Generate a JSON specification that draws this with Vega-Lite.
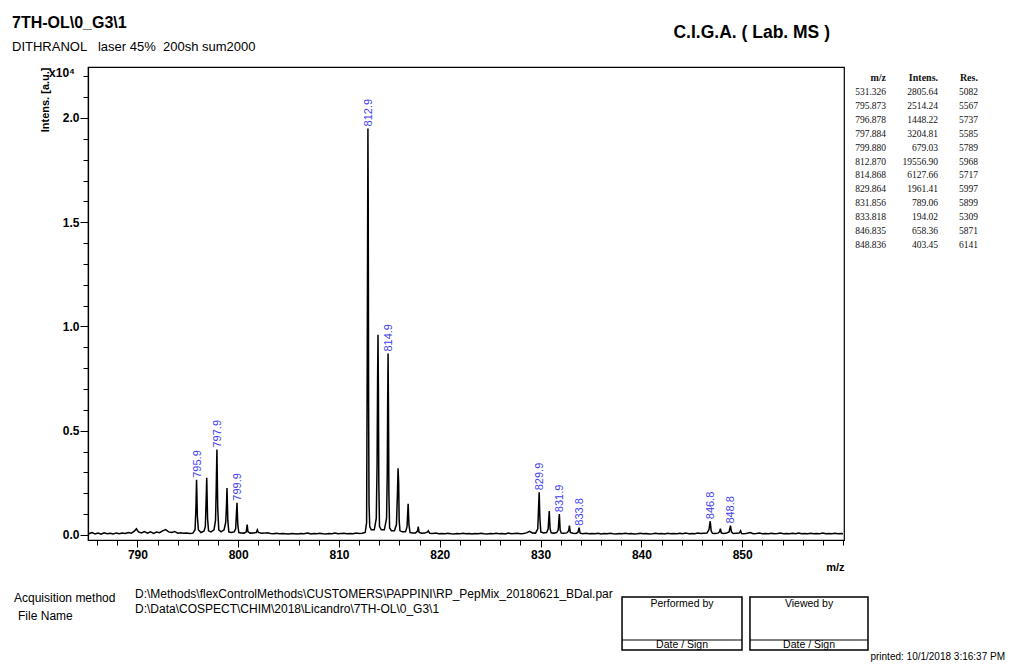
{
  "$schema": "https://vega.github.io/schema/vega-lite/v6.json",
  "autosize": {"type": "none"},
  "width": 756,
  "height": 473,
  "padding": {"left": 88, "top": 67, "right": 166, "bottom": 126},
  "background": "white",
  "title": {
    "text": "7TH-OL\\0_G3\\1",
    "subtitle": "DITHRANOL\u00a0\u00a0\u00a0laser 45%\u00a0\u00a0200sh sum2000",
    "anchor": "start",
    "frame": "group",
    "dx": -76,
    "offset": -30,
    "font": "Liberation Sans",
    "fontSize": 16,
    "fontWeight": "bold",
    "color": "black",
    "subtitleFont": "Liberation Sans",
    "subtitleFontSize": 13,
    "subtitleFontWeight": "normal",
    "subtitleColor": "black",
    "subtitlePadding": 10
  },
  "datasets": {
    "spectrum": [
      {"mz":785.2,"intens":60},{"mz":785.5,"intens":120},{"mz":785.8,"intens":50},{"mz":786.1,"intens":90},{"mz":786.4,"intens":40},{"mz":786.7,"intens":110},{"mz":787.0,"intens":60},{"mz":787.3,"intens":80},{"mz":787.6,"intens":50},{"mz":787.9,"intens":100},{"mz":788.2,"intens":60},{"mz":788.5,"intens":90},{"mz":788.8,"intens":70},{"mz":789.1,"intens":120},{"mz":789.4,"intens":90},{"mz":789.7,"intens":180},{"mz":789.9,"intens":300},{"mz":790.1,"intens":150},{"mz":790.4,"intens":100},{"mz":790.7,"intens":160},{"mz":791.0,"intens":90},{"mz":791.3,"intens":150},{"mz":791.6,"intens":80},{"mz":791.9,"intens":140},{"mz":792.2,"intens":110},{"mz":792.5,"intens":200},{"mz":792.8,"intens":260},{"mz":793.1,"intens":150},{"mz":793.4,"intens":120},{"mz":793.7,"intens":170},{"mz":794.0,"intens":90},{"mz":794.3,"intens":110},{"mz":794.6,"intens":80},{"mz":794.9,"intens":100},{"mz":795.2,"intens":70},{"mz":795.5,"intens":90},
      {"mz":795.72,"intens":250},{"mz":795.8,"intens":1200},{"mz":795.87,"intens":2650},{"mz":795.95,"intens":900},{"mz":796.05,"intens":250},{"mz":796.3,"intens":120},{"mz":796.6,"intens":180},{"mz":796.74,"intens":400},{"mz":796.81,"intens":1500},{"mz":796.88,"intens":2750},{"mz":796.96,"intens":800},{"mz":797.06,"intens":200},{"mz":797.3,"intens":150},{"mz":797.6,"intens":250},{"mz":797.75,"intens":700},{"mz":797.82,"intens":2200},{"mz":797.89,"intens":4100},{"mz":797.97,"intens":1300},{"mz":798.07,"intens":250},{"mz":798.3,"intens":150},{"mz":798.6,"intens":250},{"mz":798.76,"intens":600},{"mz":798.83,"intens":1300},{"mz":798.89,"intens":2250},{"mz":798.97,"intens":700},{"mz":799.07,"intens":150},{"mz":799.3,"intens":120},{"mz":799.6,"intens":150},{"mz":799.75,"intens":300},{"mz":799.88,"intens":1550},{"mz":799.96,"intens":500},{"mz":800.06,"intens":120},{"mz":800.3,"intens":100},{"mz":800.6,"intens":90},{"mz":800.8,"intens":150},{"mz":800.89,"intens":500},{"mz":800.97,"intens":150},{"mz":801.2,"intens":90},{"mz":801.5,"intens":100},{"mz":801.8,"intens":120},{"mz":801.9,"intens":250},{"mz":802.0,"intens":120},{"mz":802.3,"intens":80},{"mz":802.6,"intens":90},{"mz":802.9,"intens":110},
      {"mz":803.2,"intens":70},{"mz":803.5,"intens":60},{"mz":803.8,"intens":80},{"mz":804.1,"intens":60},{"mz":804.4,"intens":70},{"mz":804.7,"intens":60},{"mz":805.0,"intens":50},{"mz":805.3,"intens":70},{"mz":805.6,"intens":60},{"mz":805.9,"intens":50},{"mz":806.2,"intens":70},{"mz":806.5,"intens":60},{"mz":806.9,"intens":90},{"mz":807.2,"intens":50},{"mz":807.5,"intens":70},{"mz":807.8,"intens":60},{"mz":808.1,"intens":80},{"mz":808.4,"intens":60},{"mz":808.7,"intens":50},{"mz":809.0,"intens":70},{"mz":809.3,"intens":60},{"mz":809.6,"intens":90},{"mz":809.9,"intens":60},{"mz":810.2,"intens":70},{"mz":810.5,"intens":80},{"mz":810.8,"intens":60},{"mz":811.1,"intens":70},{"mz":811.4,"intens":60},{"mz":811.7,"intens":90},{"mz":812.0,"intens":70},{"mz":812.3,"intens":80},{"mz":812.6,"intens":120},
      {"mz":812.74,"intens":600},{"mz":812.8,"intens":8000},{"mz":812.84,"intens":14500},{"mz":812.87,"intens":19500},{"mz":812.9,"intens":16000},{"mz":812.94,"intens":6000},{"mz":812.98,"intens":1500},{"mz":813.05,"intens":400},{"mz":813.2,"intens":250},{"mz":813.5,"intens":250},{"mz":813.7,"intens":800},{"mz":813.78,"intens":3500},{"mz":813.83,"intens":7500},{"mz":813.87,"intens":9600},{"mz":813.91,"intens":7000},{"mz":813.95,"intens":2500},{"mz":814.02,"intens":400},{"mz":814.2,"intens":250},{"mz":814.5,"intens":250},{"mz":814.72,"intens":800},{"mz":814.79,"intens":3000},{"mz":814.83,"intens":6500},{"mz":814.87,"intens":8700},{"mz":814.91,"intens":6000},{"mz":814.95,"intens":2000},{"mz":815.02,"intens":350},{"mz":815.2,"intens":200},{"mz":815.5,"intens":200},{"mz":815.7,"intens":500},{"mz":815.8,"intens":2000},{"mz":815.86,"intens":3200},{"mz":815.92,"intens":2500},{"mz":815.97,"intens":700},{"mz":816.05,"intens":200},{"mz":816.3,"intens":150},{"mz":816.6,"intens":150},{"mz":816.75,"intens":400},{"mz":816.86,"intens":1500},{"mz":816.94,"intens":500},{"mz":817.05,"intens":120},{"mz":817.3,"intens":100},{"mz":817.6,"intens":100},{"mz":817.8,"intens":200},{"mz":817.86,"intens":400},{"mz":817.95,"intens":120},{"mz":818.2,"intens":80},{"mz":818.5,"intens":90},{"mz":818.8,"intens":150},{"mz":818.86,"intens":200},{"mz":819.0,"intens":80},
      {"mz":819.3,"intens":70},{"mz":819.6,"intens":90},{"mz":819.9,"intens":60},{"mz":820.2,"intens":70},{"mz":820.5,"intens":60},{"mz":820.8,"intens":80},{"mz":821.1,"intens":60},{"mz":821.4,"intens":50},{"mz":821.7,"intens":70},{"mz":822.0,"intens":60},{"mz":822.3,"intens":80},{"mz":822.6,"intens":60},{"mz":822.9,"intens":70},{"mz":823.2,"intens":50},{"mz":823.5,"intens":70},{"mz":823.8,"intens":60},{"mz":824.1,"intens":80},{"mz":824.4,"intens":60},{"mz":824.7,"intens":50},{"mz":825.0,"intens":70},{"mz":825.3,"intens":60},{"mz":825.6,"intens":80},{"mz":825.9,"intens":60},{"mz":826.2,"intens":70},{"mz":826.5,"intens":50},{"mz":826.8,"intens":90},{"mz":827.1,"intens":60},{"mz":827.4,"intens":70},{"mz":827.7,"intens":80},{"mz":828.0,"intens":60},{"mz":828.3,"intens":70},{"mz":828.6,"intens":100},{"mz":828.9,"intens":180},{"mz":829.2,"intens":100},{"mz":829.5,"intens":90},
      {"mz":829.72,"intens":300},{"mz":829.8,"intens":1300},{"mz":829.86,"intens":2050},{"mz":829.93,"intens":800},{"mz":830.02,"intens":150},{"mz":830.3,"intens":100},{"mz":830.6,"intens":120},{"mz":830.75,"intens":300},{"mz":830.86,"intens":1150},{"mz":830.94,"intens":300},{"mz":831.05,"intens":100},{"mz":831.3,"intens":90},{"mz":831.6,"intens":120},{"mz":831.75,"intens":250},{"mz":831.86,"intens":1000},{"mz":831.94,"intens":250},{"mz":832.05,"intens":90},{"mz":832.3,"intens":80},{"mz":832.6,"intens":100},{"mz":832.78,"intens":200},{"mz":832.86,"intens":450},{"mz":832.95,"intens":120},{"mz":833.2,"intens":80},{"mz":833.5,"intens":70},{"mz":833.7,"intens":120},{"mz":833.82,"intens":350},{"mz":833.92,"intens":90},
      {"mz":834.2,"intens":60},{"mz":834.5,"intens":80},{"mz":834.8,"intens":60},{"mz":835.1,"intens":70},{"mz":835.4,"intens":60},{"mz":835.7,"intens":80},{"mz":836.0,"intens":50},{"mz":836.3,"intens":70},{"mz":836.6,"intens":60},{"mz":836.9,"intens":80},{"mz":837.2,"intens":60},{"mz":837.5,"intens":50},{"mz":837.8,"intens":70},{"mz":838.1,"intens":60},{"mz":838.4,"intens":80},{"mz":838.7,"intens":60},{"mz":839.0,"intens":70},{"mz":839.3,"intens":50},{"mz":839.6,"intens":60},{"mz":839.9,"intens":80},{"mz":840.2,"intens":60},{"mz":840.5,"intens":70},{"mz":840.8,"intens":50},{"mz":841.1,"intens":60},{"mz":841.4,"intens":80},{"mz":841.7,"intens":60},{"mz":842.0,"intens":70},{"mz":842.3,"intens":50},{"mz":842.6,"intens":80},{"mz":842.9,"intens":60},{"mz":843.2,"intens":70},{"mz":843.5,"intens":60},{"mz":843.8,"intens":80},{"mz":844.1,"intens":60},{"mz":844.4,"intens":90},{"mz":844.7,"intens":60},{"mz":845.0,"intens":70},{"mz":845.3,"intens":60},{"mz":845.6,"intens":90},{"mz":845.9,"intens":70},{"mz":846.2,"intens":80},{"mz":846.5,"intens":90},
      {"mz":846.7,"intens":250},{"mz":846.83,"intens":660},{"mz":846.92,"intens":200},{"mz":847.05,"intens":80},{"mz":847.3,"intens":70},{"mz":847.6,"intens":90},{"mz":847.75,"intens":150},{"mz":847.84,"intens":300},{"mz":847.93,"intens":100},{"mz":848.1,"intens":70},{"mz":848.4,"intens":80},{"mz":848.7,"intens":150},{"mz":848.84,"intens":450},{"mz":848.93,"intens":150},{"mz":849.1,"intens":70},{"mz":849.4,"intens":80},{"mz":849.7,"intens":90},{"mz":849.84,"intens":200},{"mz":849.93,"intens":70},
      {"mz":850.2,"intens":60},{"mz":850.5,"intens":80},{"mz":850.8,"intens":120},{"mz":851.1,"intens":60},{"mz":851.4,"intens":70},{"mz":851.7,"intens":90},{"mz":852.0,"intens":60},{"mz":852.3,"intens":70},{"mz":852.6,"intens":60},{"mz":852.9,"intens":80},{"mz":853.2,"intens":60},{"mz":853.5,"intens":70},{"mz":853.8,"intens":90},{"mz":854.1,"intens":60},{"mz":854.4,"intens":70},{"mz":854.7,"intens":60},{"mz":855.0,"intens":80},{"mz":855.3,"intens":60},{"mz":855.6,"intens":100},{"mz":855.9,"intens":60},{"mz":856.2,"intens":70},{"mz":856.5,"intens":60},{"mz":856.8,"intens":80},{"mz":857.1,"intens":60},{"mz":857.4,"intens":70},{"mz":857.7,"intens":60},{"mz":858.0,"intens":90},{"mz":858.3,"intens":60},{"mz":858.6,"intens":70},{"mz":858.9,"intens":60},{"mz":859.2,"intens":80},{"mz":859.5,"intens":60},{"mz":859.8,"intens":70},{"mz":860.0,"intens":60}
    ],
    "peaks": [
      {"mz":795.87,"intens":2650,"label":"795.9"},
      {"mz":797.89,"intens":4100,"label":"797.9"},
      {"mz":799.88,"intens":1550,"label":"799.9"},
      {"mz":812.87,"intens":19500,"label":"812.9"},
      {"mz":814.87,"intens":8700,"label":"814.9"},
      {"mz":829.86,"intens":2050,"label":"829.9"},
      {"mz":831.86,"intens":1000,"label":"831.9"},
      {"mz":833.82,"intens":350,"label":"833.8"},
      {"mz":846.83,"intens":660,"label":"846.8"},
      {"mz":848.84,"intens":450,"label":"848.8"}
    ],
    "peaktable": [
      {"mz":"531.326","intens":"2805.64","res":"5082"},
      {"mz":"795.873","intens":"2514.24","res":"5567"},
      {"mz":"796.878","intens":"1448.22","res":"5737"},
      {"mz":"797.884","intens":"3204.81","res":"5585"},
      {"mz":"799.880","intens":"679.03","res":"5789"},
      {"mz":"812.870","intens":"19556.90","res":"5968"},
      {"mz":"814.868","intens":"6127.66","res":"5717"},
      {"mz":"829.864","intens":"1961.41","res":"5997"},
      {"mz":"831.856","intens":"789.06","res":"5899"},
      {"mz":"833.818","intens":"194.02","res":"5309"},
      {"mz":"846.835","intens":"658.36","res":"5871"},
      {"mz":"848.836","intens":"403.45","res":"6141"}
    ],
    "one": [{}]
  },
  "layer": [
    {
      "layer": [
        {
          "data": {"name": "spectrum"},
          "mark": {"type": "line", "color": "black", "strokeWidth": 1.5, "clip": true},
          "encoding": {
            "x": {
              "field": "mz", "type": "quantitative",
              "scale": {"domain": [785.1, 860.1], "nice": false, "zero": false},
              "axis": {
                "values": [790, 800, 810, 820, 830, 840, 850],
                "format": "d",
                "labelOverlap": false,
                "labelFlush": false,
                "labelBound": false,
                "tickSize": 7,
                "tickColor": "black",
                "tickWidth": 1,
                "labelFontSize": 12,
                "labelFontWeight": "bold",
                "labelPadding": 2,
                "domainColor": "black",
                "domainWidth": 1.2,
                "title": "m/z",
                "titleAnchor": "end",
                "titleAlign": "right",
                "titleFontSize": 11,
                "titleFontWeight": "bold",
                "titlePadding": 1,
                "grid": false
              }
            },
            "y": {
              "field": "intens", "type": "quantitative",
              "scale": {"domain": [-240, 22446], "nice": false, "zero": false},
              "axis": {
                "values": [0, 5000, 10000, 15000, 20000],
                "labelExpr": "format(datum.value / 10000, '.1f')",
                "labelOverlap": false,
                "labelFlush": false,
                "labelBound": false,
                "tickSize": 8,
                "tickColor": "black",
                "tickWidth": 1,
                "labelFontSize": 12,
                "labelFontWeight": "bold",
                "labelPadding": 1,
                "domainColor": "black",
                "domainWidth": 1.2,
                "title": "Intens. [a.u.]",
                "titleAnchor": "end",
                "titleFontSize": 11,
                "titleFontWeight": "bold",
                "titlePadding": 12,
                "grid": false
              }
            }
          }
        },
        {
          "data": {"name": "peaks"},
          "mark": {"type": "text", "angle": 270, "align": "left", "baseline": "middle", "dx": 2, "dy": 1, "font": "Liberation Sans", "fontSize": 11, "color": "#3f3ff0"},
          "encoding": {
            "x": {"field": "mz", "type": "quantitative"},
            "y": {"field": "intens", "type": "quantitative"},
            "text": {"field": "label"}
          }
        },
        {
          "data": {"name": "one"},
          "mark": {"type": "text", "text": "x10\u2074", "align": "right", "baseline": "top", "font": "Liberation Sans", "fontSize": 12, "fontWeight": "bold", "color": "black"},
          "encoding": {"x": {"datum": 783.81, "type": "quantitative"}, "y": {"datum": 22397, "type": "quantitative"}}
        },
        {
          "data": {"name": "one"},
          "mark": {"type": "text", "text": "C.I.G.A. ( Lab. MS )", "align": "right", "baseline": "middle", "font": "Liberation Sans", "fontSize": 17.5, "fontWeight": "bold", "color": "black"},
          "encoding": {"x": {"datum": 858.71, "type": "quantitative"}, "y": {"datum": 24076, "type": "quantitative"}}
        },
        {
          "data": {"name": "one"},
          "mark": {"type": "text", "text": "Acquisition method", "align": "left", "baseline": "middle", "font": "Liberation Sans", "fontSize": 12, "color": "black"},
          "encoding": {"x": {"datum": 777.76, "type": "quantitative"}, "y": {"datum": -3021, "type": "quantitative"}}
        },
        {
          "data": {"name": "one"},
          "mark": {"type": "text", "text": "File Name", "align": "left", "baseline": "middle", "font": "Liberation Sans", "fontSize": 12, "color": "black"},
          "encoding": {"x": {"datum": 778.16, "type": "quantitative"}, "y": {"datum": -3885, "type": "quantitative"}}
        },
        {
          "data": {"name": "one"},
          "mark": {"type": "text", "text": "D:\\Methods\\flexControlMethods\\CUSTOMERS\\PAPPINI\\RP_PepMix_20180621_BDal.par", "align": "left", "baseline": "middle", "font": "Liberation Sans", "fontSize": 12, "color": "black"},
          "encoding": {"x": {"datum": 789.76, "type": "quantitative"}, "y": {"datum": -2830, "type": "quantitative"}}
        },
        {
          "data": {"name": "one"},
          "mark": {"type": "text", "text": "D:\\Data\\COSPECT\\CHIM\\2018\\Licandro\\7TH-OL\\0_G3\\1", "align": "left", "baseline": "middle", "font": "Liberation Sans", "fontSize": 12, "color": "black"},
          "encoding": {"x": {"datum": 789.76, "type": "quantitative"}, "y": {"datum": -3549, "type": "quantitative"}}
        },
        {
          "data": {"name": "one"},
          "mark": {"type": "rect", "filled": false, "color": "black", "strokeWidth": 1.5},
          "encoding": {"x": {"datum": 838.08, "type": "quantitative"}, "x2": {"datum": 849.98}, "y": {"datum": -2974, "type": "quantitative"}, "y2": {"datum": -5515}}
        },
        {
          "data": {"name": "one"},
          "mark": {"type": "rect", "filled": false, "color": "black", "strokeWidth": 1.5},
          "encoding": {"x": {"datum": 850.77, "type": "quantitative"}, "x2": {"datum": 862.48}, "y": {"datum": -2974, "type": "quantitative"}, "y2": {"datum": -5515}}
        },
        {
          "data": {"name": "one"},
          "mark": {"type": "rule", "color": "black", "strokeWidth": 1.2},
          "encoding": {"x": {"datum": 838.08, "type": "quantitative"}, "x2": {"datum": 849.98}, "y": {"datum": -5036, "type": "quantitative"}}
        },
        {
          "data": {"name": "one"},
          "mark": {"type": "rule", "color": "black", "strokeWidth": 1.2},
          "encoding": {"x": {"datum": 850.77, "type": "quantitative"}, "x2": {"datum": 862.48}, "y": {"datum": -5036, "type": "quantitative"}}
        },
        {
          "data": {"name": "one"},
          "mark": {"type": "text", "text": "Performed by", "align": "center", "baseline": "middle", "font": "Liberation Sans", "fontSize": 10.5, "color": "black"},
          "encoding": {"x": {"datum": 844.03, "type": "quantitative"}, "y": {"datum": -3309, "type": "quantitative"}}
        },
        {
          "data": {"name": "one"},
          "mark": {"type": "text", "text": "Viewed by", "align": "center", "baseline": "middle", "font": "Liberation Sans", "fontSize": 10.5, "color": "black"},
          "encoding": {"x": {"datum": 856.63, "type": "quantitative"}, "y": {"datum": -3309, "type": "quantitative"}}
        },
        {
          "data": {"name": "one"},
          "mark": {"type": "text", "text": "Date / Sign", "align": "center", "baseline": "middle", "font": "Liberation Sans", "fontSize": 10.5, "color": "black"},
          "encoding": {"x": {"datum": 844.03, "type": "quantitative"}, "y": {"datum": -5276, "type": "quantitative"}}
        },
        {
          "data": {"name": "one"},
          "mark": {"type": "text", "text": "Date / Sign", "align": "center", "baseline": "middle", "font": "Liberation Sans", "fontSize": 10.5, "color": "black"},
          "encoding": {"x": {"datum": 856.63, "type": "quantitative"}, "y": {"datum": -5276, "type": "quantitative"}}
        },
        {
          "data": {"name": "one"},
          "mark": {"type": "text", "text": "printed:  10/1/2018 3:16:37 PM", "align": "right", "baseline": "middle", "font": "Liberation Sans", "fontSize": 10, "color": "black"},
          "encoding": {"x": {"datum": 876.07, "type": "quantitative"}, "y": {"datum": -5851, "type": "quantitative"}}
        }
      ]
    },
    {
      "data": {"name": "peaktable"},
      "layer": [
        {
          "mark": {"type": "text", "align": "right", "baseline": "middle", "font": "Liberation Serif", "fontSize": 9.5, "color": "#111111"},
          "encoding": {
            "x": {"datum": 864.27, "type": "quantitative", "axis": null, "scale": {"domain": [785.1, 860.1], "nice": false, "zero": false}},
            "y": {"field": "mz", "type": "ordinal", "axis": null, "scale": {"type": "point", "domain": ["m/z","531.326","795.873","796.878","797.884","799.880","812.870","814.868","829.864","831.856","833.818","846.835","848.836"], "range": [11, 178], "padding": 0}},
            "text": {"field": "mz"}
          }
        },
        {
          "mark": {"type": "text", "align": "right", "baseline": "middle", "font": "Liberation Serif", "fontSize": 9.5, "color": "#111111"},
          "encoding": {
            "x": {"datum": 869.43, "type": "quantitative", "axis": null},
            "y": {"field": "mz", "type": "ordinal", "axis": null},
            "text": {"field": "intens"}
          }
        },
        {
          "mark": {"type": "text", "align": "right", "baseline": "middle", "font": "Liberation Serif", "fontSize": 9.5, "color": "#111111"},
          "encoding": {
            "x": {"datum": 873.39, "type": "quantitative", "axis": null},
            "y": {"field": "mz", "type": "ordinal", "axis": null},
            "text": {"field": "res"}
          }
        },
        {
          "data": {"values": [{"mz": "m/z", "label": "m/z"}]},
          "mark": {"type": "text", "align": "right", "baseline": "middle", "font": "Liberation Serif", "fontSize": 10, "fontWeight": "bold", "color": "#111111"},
          "encoding": {
            "x": {"datum": 864.27, "type": "quantitative", "axis": null},
            "y": {"field": "mz", "type": "ordinal", "axis": null},
            "text": {"field": "label"}
          }
        },
        {
          "data": {"values": [{"mz": "m/z", "label": "Intens."}]},
          "mark": {"type": "text", "align": "right", "baseline": "middle", "font": "Liberation Serif", "fontSize": 10, "fontWeight": "bold", "color": "#111111"},
          "encoding": {
            "x": {"datum": 869.43, "type": "quantitative", "axis": null},
            "y": {"field": "mz", "type": "ordinal", "axis": null},
            "text": {"field": "label"}
          }
        },
        {
          "data": {"values": [{"mz": "m/z", "label": "Res."}]},
          "mark": {"type": "text", "align": "right", "baseline": "middle", "font": "Liberation Serif", "fontSize": 10, "fontWeight": "bold", "color": "#111111"},
          "encoding": {
            "x": {"datum": 873.39, "type": "quantitative", "axis": null},
            "y": {"field": "mz", "type": "ordinal", "axis": null},
            "text": {"field": "label"}
          }
        }
      ]
    },
    {
      "data": {"name": "one"},
      "mark": {"type": "point", "opacity": 0},
      "encoding": {
        "x": {
          "datum": 800, "type": "quantitative",
          "scale": {"domain": [785.1, 860.1], "nice": false, "zero": false},
          "axis": {"orient": "bottom", "values": [786,788,792,794,796,798,802,804,806,808,812,814,816,818,822,824,826,828,832,834,836,838,842,844,846,848,852,854,856,858,860], "labels": false, "domain": false, "grid": false, "tickSize": 5, "tickColor": "black", "tickWidth": 1, "title": null}
        },
        "y": {
          "datum": 0, "type": "quantitative",
          "scale": {"domain": [-240, 22446], "nice": false, "zero": false},
          "axis": {"orient": "left", "values": [1000,2000,3000,4000,6000,7000,8000,9000,11000,12000,13000,14000,16000,17000,18000,19000,21000,22000], "labels": false, "domain": false, "grid": false, "tickSize": 5, "tickColor": "black", "tickWidth": 1, "title": null}
        }
      }
    }
  ],
  "resolve": {"scale": {"x": "independent", "y": "independent"}},
  "config": {
    "view": {"stroke": "black", "strokeWidth": 1.2},
    "axis": {"labelFont": "Liberation Sans", "titleFont": "Liberation Sans", "labelColor": "black", "titleColor": "black", "grid": false},
    "text": {"font": "Liberation Sans"}
  }
}
